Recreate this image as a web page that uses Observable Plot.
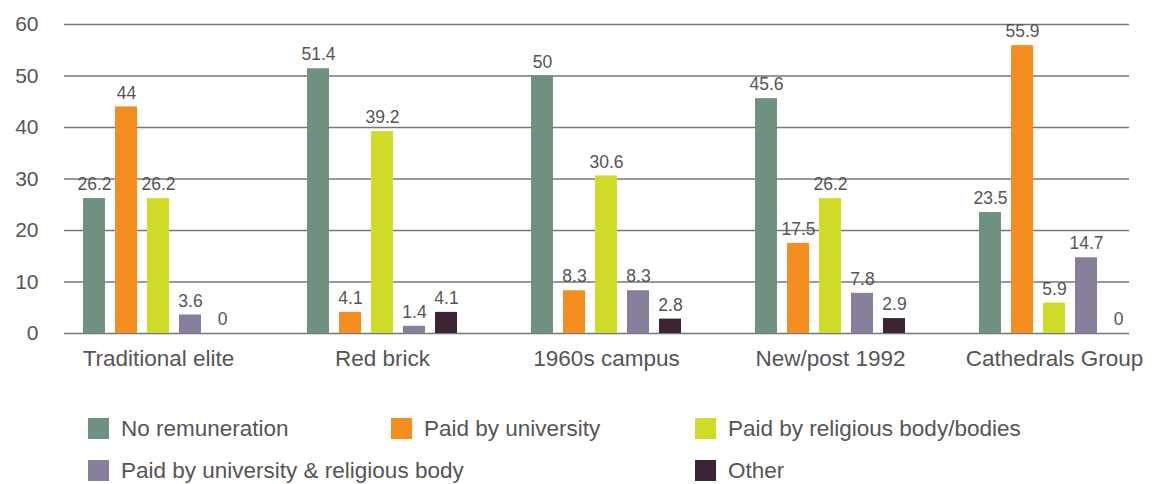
<!DOCTYPE html>
<html>
<head>
<meta charset="utf-8">
<script src="https://cdn.jsdelivr.net/npm/d3@7"></script>
<script src="https://cdn.jsdelivr.net/npm/@observablehq/plot@0.6"></script>
<style>
  html, body { margin: 0; padding: 0; background: #fff; }
  body { width: 1155px; height: 484px; overflow: hidden; font-family: "Liberation Sans", Arial, sans-serif; }
  #legend {
    display: grid;
    grid-template-columns: 303px 304px auto;
    row-gap: 21px;
    padding-left: 88px;
    margin-top: 18px;
    color: #555;
    font-size: 22.5px;
  }
  .item { display: flex; align-items: center; height: 21px; white-space: nowrap; }
  .sw { width: 21px; height: 21px; margin-right: 12px; flex: none; }
</style>
</head>
<body>
<div id="chart"></div>
<div id="legend"></div>
<script>
const groups = ["Traditional elite", "Red brick", "1960s campus", "New/post 1992", "Cathedrals Group"];
const series = ["No remuneration", "Paid by university", "Paid by religious body/bodies", "Paid by university & religious body", "Other"];
const noRemuneration = [26.2, 51.4, 50, 45.6, 23.5];
const paidByUniversity = [44, 4.1, 8.3, 17.5, 55.9];
const paidByReligious = [26.2, 39.2, 30.6, 26.2, 5.9];
const paidByBoth = [3.6, 1.4, 8.3, 7.8, 14.7];
const other = [0, 4.1, 2.8, 2.9, 0];
const yTicks = [0, 10, 20, 30, 40, 50, 60];
const colors = ["#6e9280", "#f68e1f", "#cfdc26", "#877e9b", "#3c2436"];

const seriesValues = [noRemuneration, paidByUniversity, paidByReligious, paidByBoth, other];
const data = [];
groups.forEach((g, gi) => {
  series.forEach((s, si) => {
    data.push({group: g, series: s, key: g + "|" + s, value: seriesValues[si][gi]});
  });
});

// band domain: 5 bars per group with two empty slots between groups
const domain = [];
groups.forEach((g, gi) => {
  series.forEach(s => domain.push(g + "|" + s));
  if (gi < groups.length - 1) { domain.push("gap" + gi + "a"); domain.push("gap" + gi + "b"); }
});
const middleKeys = groups.map(g => g + "|" + series[2]);

const chart = Plot.plot({
  width: 1155,
  height: 400,
  marginLeft: 64,
  marginRight: 26,
  marginTop: 24,
  marginBottom: 67,
  style: {fontFamily: "'Liberation Sans', Arial, sans-serif", color: "#555", background: "#fff", overflow: "visible"},
  x: {type: "band", domain, range: [78, 1134], paddingInner: 0.3125, paddingOuter: 0.15625},
  y: {domain: [0, 60]},
  color: {domain: series, range: colors},
  marks: [
    Plot.ruleY(yTicks, {stroke: "#777", strokeWidth: 1.3}),
    Plot.axisY({ticks: yTicks, tickSize: 0, tickPadding: 26, fontSize: 21, fill: "#555", label: null}),
    Plot.axisX({ticks: middleKeys, tickFormat: k => k.split("|")[0], tickSize: 0, tickPadding: 17, fontSize: 22.5, fill: "#555", label: null}),
    Plot.rectY(data, {x: "key", y: "value", fill: "series"}),
    Plot.text(data, {x: "key", y: "value", text: d => String(d.value), dy: -14, fontSize: 17.5, fill: "#555"})
  ]
});
document.getElementById("chart").appendChild(chart);

const legend = document.getElementById("legend");
const layout = [[0, 1], [1, 2], [2, 3], [3, 1], [4, 3]]; // [series index, column]
layout.forEach(([si, col], i) => {
  const item = document.createElement("div");
  item.className = "item";
  item.style.gridColumn = col;
  item.style.gridRow = i < 3 ? 1 : 2;
  const sw = document.createElement("span");
  sw.className = "sw";
  sw.style.background = colors[si];
  const t = document.createElement("span");
  t.textContent = series[si];
  item.appendChild(sw);
  item.appendChild(t);
  legend.appendChild(item);
});
</script>
</body>
</html>
